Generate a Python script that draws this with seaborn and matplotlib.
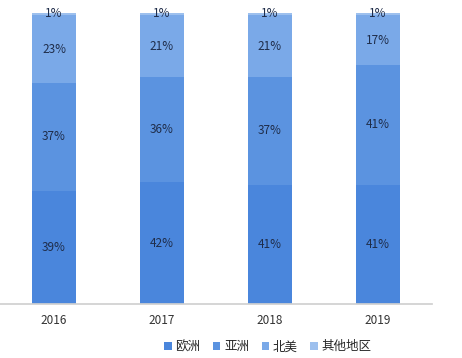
import pandas as pd
import matplotlib.pyplot as plt
import seaborn as sns

years = ['2016', '2017', '2018', '2019']
europe = [39, 42, 41, 41]
asia = [37, 36, 37, 41]
north_america = [23, 21, 21, 17]
other = [1, 1, 1, 1]

series = [('欧洲', europe, '#4a86dc'),
          ('亚洲', asia, '#5b93e0'),
          ('北美', north_america, '#7aa9e8'),
          ('其他地区', other, '#9dc0ee')]

sns.set_theme(style="white")
plt.rcParams['font.family'] = ['Noto Sans CJK SC', 'DejaVu Sans']

fig = plt.figure(figsize=(4.62, 3.58), dpi=100)
ax = fig.add_axes([0.0, 0.15, 0.935, 0.815])

bottom = [0, 0, 0, 0]
for name, vals, color in series:
    df = pd.DataFrame({'year': years, 'val': vals})
    sns.barplot(data=df, x='year', y='val', color=color, bottom=bottom,
                width=0.4, label=name, ax=ax, saturation=1, linewidth=0)
    for i, v in enumerate(vals):
        ax.text(i, bottom[i] + v / 2 if v > 2 else bottom[i] + v / 2 + 0.3,
                f'{v}%', ha='center', va='center', fontsize=8.5, color='#1f2d4a')
    bottom = [b + v for b, v in zip(bottom, vals)]

ax.set_ylim(0, 100)
ax.set_xlim(-0.5, 3.5)
ax.set_xlabel('')
ax.set_ylabel('')
ax.set_yticks([])
ax.tick_params(axis='x', labelsize=8.5, length=0, pad=7, colors='#333333')
sns.despine(ax=ax, left=True)
ax.spines['bottom'].set_color('#d0d0d0')

ax.legend(loc='upper center', bbox_to_anchor=(0.62, -0.085), ncol=4, frameon=False,
          fontsize=9, handlelength=0.6, handleheight=0.6, handletextpad=0.3,
          columnspacing=1.0)

fig.savefig('out.png', dpi=100)
